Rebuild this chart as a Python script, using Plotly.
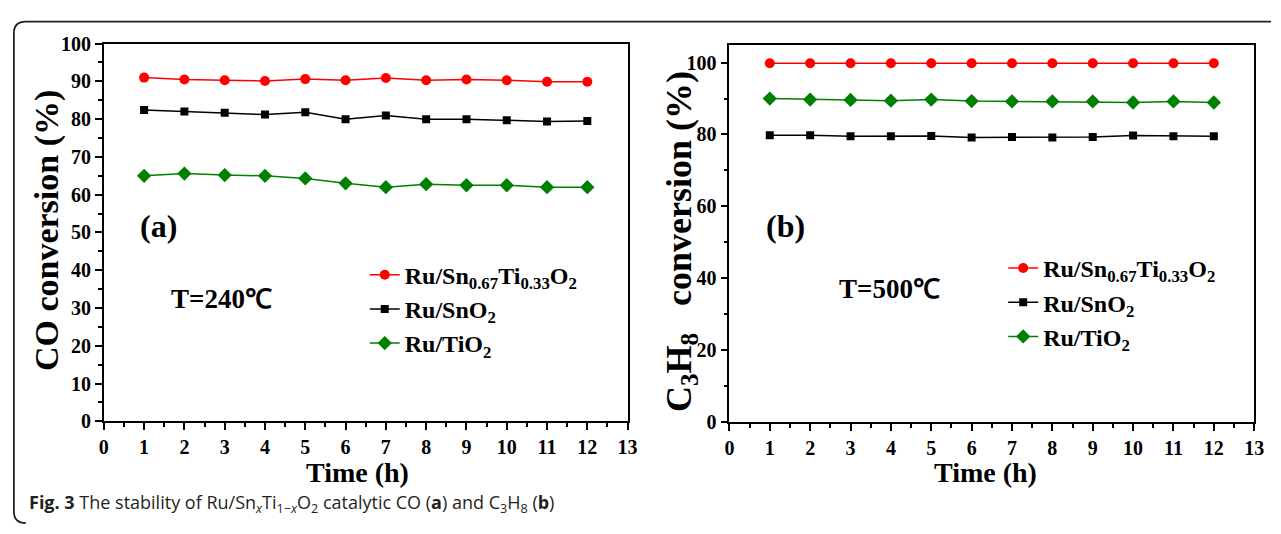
import plotly.graph_objects as go

W, H = 1281, 534

time_h = [1, 2, 3, 4, 5, 6, 7, 8, 9, 10, 11, 12]

# Panel (a): CO conversion (%) at 240 C
co_sn067 = [91.0, 90.5, 90.3, 90.1, 90.6, 90.3, 90.9, 90.3, 90.5, 90.3, 89.9, 89.9]
co_sno2 = [82.4, 82.0, 81.7, 81.2, 81.8, 80.0, 81.0, 80.0, 80.0, 79.7, 79.4, 79.5]
co_tio2 = [65.0, 65.6, 65.2, 65.0, 64.3, 63.0, 62.0, 62.8, 62.5, 62.5, 62.0, 62.0]

# Panel (b): C3H8 conversion (%) at 500 C
c3_sn067 = [99.8, 99.8, 99.8, 99.8, 99.8, 99.8, 99.8, 99.8, 99.8, 99.8, 99.8, 99.8]
c3_sno2 = [79.8, 79.8, 79.5, 79.5, 79.6, 79.2, 79.3, 79.2, 79.3, 79.7, 79.5, 79.5]
c3_tio2 = [90.0, 89.7, 89.6, 89.4, 89.7, 89.3, 89.2, 89.2, 89.2, 88.9, 89.2, 88.9]

series_names = ["Ru/Sn<sub>0.67</sub>Ti<sub>0.33</sub>O<sub>2</sub>",
                "Ru/SnO<sub>2</sub>",
                "Ru/TiO<sub>2</sub>"]
colors = ["#ff0000", "#000000", "#008000"]
symbols = ["circle", "square", "diamond"]
msizes = [10, 8, 11]

x_ticks = list(range(0, 14))
ya_ticks = list(range(0, 101, 10))
yb_ticks = list(range(0, 101, 20))

SERIF = "Liberation Serif"


def px(x):
    return x / W


def py(y):
    return 1 - y / H


fig = go.Figure()

panels = [
    ("x", "y", "legend", [co_sn067, co_sno2, co_tio2]),
    ("x2", "y2", "legend2", [c3_sn067, c3_sno2, c3_tio2]),
]
for xa, ya, leg, data in panels:
    for i, vals in enumerate(data):
        fig.add_trace(go.Scatter(
            x=time_h, y=vals, xaxis=xa, yaxis=ya, mode="lines+markers",
            name=series_names[i], legend=leg, legendgroup=f"{leg}{i}",
            line=dict(color=colors[i], width=1.5),
            marker=dict(symbol=symbols[i], size=msizes[i], color=colors[i]),
        ))


def axis(domain, rng, tickvals, minor_dtick, anchor):
    return dict(
        domain=domain, range=rng, tickvals=tickvals,
        ticktext=[f"<b>{v}</b>" for v in tickvals], anchor=anchor,
        showline=True, linecolor="black", linewidth=1.8, mirror=True,
        ticks="outside", ticklen=7, tickwidth=1.8, tickcolor="black",
        showgrid=False, zeroline=False,
        tickfont=dict(family=SERIF, size=20, color="black"),
        minor=dict(dtick=minor_dtick, ticklen=4, tickwidth=1.5,
                   tickcolor="black", ticks="outside", showgrid=False),
    )


fig.update_layout(
    width=W, height=H, margin=dict(l=0, r=0, t=0, b=0),
    paper_bgcolor="white", plot_bgcolor="white",
    font=dict(family=SERIF, size=20, color="black"),
    xaxis=axis([px(100), px(630)], [0, 13], x_ticks, 0.5, "y"),
    yaxis=axis([py(428), py(34)], [0, 100], ya_ticks, 5, "x"),
    xaxis2=axis([px(733), px(1264)], [0, 13], x_ticks, 0.5, "y2"),
    yaxis2=axis([py(429), py(35)], [0, 105], yb_ticks, 10, "x2"),
    legend=dict(x=px(364), y=py(252), xanchor="left", yanchor="top",
                bgcolor="rgba(0,0,0,0)", traceorder="grouped", tracegroupgap=0,
                font=dict(family=SERIF, size=24, color="black", weight="bold")),
    legend2=dict(x=px(1010), y=py(245), xanchor="left", yanchor="top",
                 bgcolor="rgba(0,0,0,0)", traceorder="grouped", tracegroupgap=0,
                 font=dict(family=SERIF, size=24, color="black", weight="bold")),
    showlegend=True,
)

annos = [
    dict(text="Time (h)", x=px(357), y=py(481), size=28),
    dict(text="Time (h)", x=px(992), y=py(481), size=28),
    dict(text="CO conversion (%)", x=px(42), y=py(229), size=34, angle=-90),
    dict(text="C<sub>3</sub>H<sub>8</sub>   conversion (%)", x=px(684), y=py(240), size=36, angle=-90),
    dict(text="(a)", x=px(155), y=py(224), size=32),
    dict(text="(b)", x=px(790), y=py(224), size=32),
    dict(text="T=240℃", x=px(219), y=py(300), size=27),
    dict(text="T=500℃", x=px(895), y=py(290), size=27),
]
for a in annos:
    fig.add_annotation(
        text=a["text"], x=a["x"], y=a["y"], xref="paper", yref="paper",
        xanchor="center", yanchor="middle", showarrow=False,
        textangle=a.get("angle", 0),
        font=dict(family=SERIF, size=a["size"], color="black", weight="bold"),
    )

fig.add_annotation(
    text="<b>Fig. 3</b> The stability of Ru/Sn<sub><i>x</i></sub>Ti<sub>1−<i>x</i></sub>O<sub>2</sub> "
         "catalytic CO (<b>a</b>) and C<sub>3</sub>H<sub>8</sub> (<b>b</b>)",
    x=px(22), y=py(514), xref="paper", yref="paper", xanchor="left", yanchor="middle",
    showarrow=False, font=dict(family="Open Sans", size=18, color="#231f20", weight="normal"),
)

# rounded frame open on the right side
path = (f"M {px(1281)},{py(11)} L {px(21)},{py(11)} Q {px(9)},{py(11)} {px(9)},{py(23)} "
        f"L {px(9)},{py(522)} Q {px(9)},{py(534)} {px(21)},{py(534)}")
fig.add_shape(type="path", path=path, xref="paper", yref="paper",
              line=dict(color="#222222", width=1.8))

fig.write_html(
    "out.html",
    post_script="document.body.style.margin='0';document.body.style.padding='0';"
                "document.documentElement.style.overflow='hidden';",
)
